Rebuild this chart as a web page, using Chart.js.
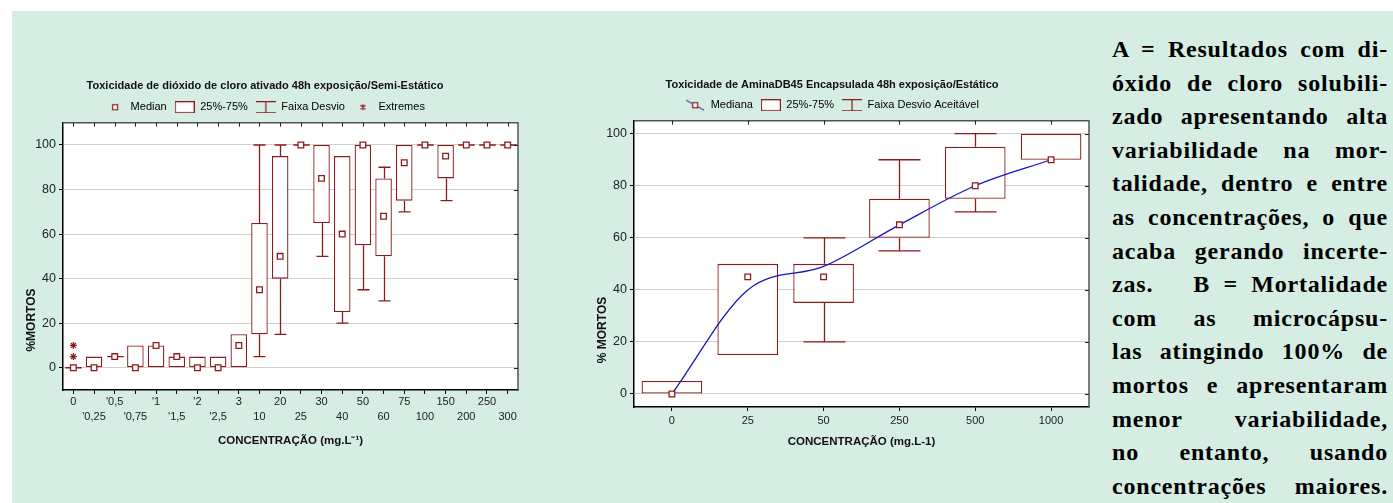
<!DOCTYPE html>
<html lang="pt">
<head>
<meta charset="UTF-8">
<title>Toxicidade - box plots</title>
<script src="https://cdn.jsdelivr.net/npm/chart.js"></script>
<style>
  body { margin: 0; width: 1393px; height: 503px; overflow: hidden; background: #fff; position: relative; }
  #bg { position: absolute; left: 12px; top: 11px; right: 0; bottom: 0; background: #d5ede2; }
  canvas { position: absolute; }
  #chartA { left: 12px; top: 60px; }
  #chartB { left: 575px; top: 60px; }
  #note { position: absolute; left: 1112px; top: 33px; width: 276px;
          font: bold 24px "Liberation Serif", serif; letter-spacing: 0.8px; line-height: 33.6px; color: #000; }
  #note div { white-space: nowrap; text-align: justify; text-align-last: justify; }
</style>
</head>
<body>
<div id="bg"></div>
<canvas id="chartA" width="516" height="400"></canvas>
<canvas id="chartB" width="520" height="400"></canvas>
<div id="note">
  <div>A = Resultados com di-</div>
  <div>óxido de cloro solubili-</div>
  <div>zado apresentando alta</div>
  <div>variabilidade na mor-</div>
  <div>talidade, dentro e entre</div>
  <div>as concentrações, o que</div>
  <div>acaba gerando incerte-</div>
  <div>zas. &nbsp; B = Mortalidade</div>
  <div>com as microcápsu-</div>
  <div>las atingindo 100% de</div>
  <div>mortos e apresentaram</div>
  <div>menor variabilidade,</div>
  <div>no entanto, usando</div>
  <div>concentrações maiores.</div>
</div>
<script>
    // chart A: dióxido de cloro (semi-estático)
    const concA = ['0', "'0,25", "'0,5", "'0,75", "'1", "'1,5", "'2", "'2,5", '3', '10', '20', '25', '30', '40', '50', '60', '75', '100', '150', '200', '250', '300'];
    const medA  = [0, 0, 5, 0, 10, 5, 0, 0, 10, 35, 50, 100, 85, 60, 100, 68, 92, 100, 95, 100, 100, 100];
    const q1A   = [0, 0, 5, 0, 0, 0, 0, 0, 0, 15, 40, 100, 65, 25, 55, 50, 75, 100, 85, 100, 100, 100];
    const q3A   = [0, 5, 5, 10, 10, 5, 5, 5, 15, 65, 95, 100, 100, 95, 100, 85, 100, 100, 100, 100, 100, 100];
    const lowA  = [0, 0, 5, 0, 0, 0, 0, 0, 0, 5, 15, 100, 50, 20, 35, 30, 70, 100, 75, 100, 100, 100];
    const highA = [0, 5, 5, 10, 10, 5, 5, 5, 15, 100, 100, 100, 100, 95, 100, 90, 100, 100, 100, 100, 100, 100];
    const extremeCatA = ['0', '0'];
    const extremeValA = [5, 10];

    // chart B: AminaDB45 encapsulada (estático)
    const concB = ['0', '25', '50', '250', '500', '1000'];
    const medB  = [0, 45, 45, 65, 80, 90];
    const q1B   = [0, 15, 35, 60, 75, 90];
    const q3B   = [5, 50, 50, 75, 95, 100];
    const lowB  = [0, 15, 20, 55, 70, 90];
    const highB = [5, 50, 60, 90, 100, 100];
    const fitB  = [0, 40, 49, 65, 80, 90];

    const yTicks = [0, 20, 40, 60, 80, 100];

    const RED = '#8e1b1b';
    const BLUE = '#1515c0';
    const F = '"Liberation Sans", Arial, sans-serif';

    function icon(draw, w = 20, h = 12) {
        const c = document.createElement('canvas');
        c.width = w; c.height = h;
        const g = c.getContext('2d');
        g.strokeStyle = RED; g.lineWidth = 1.2;
        draw(g, w, h);
        return c;
    }
    const iconMedian = icon(g => { g.fillStyle = '#fff'; g.fillRect(7.5, 3.5, 5, 5); g.strokeRect(7.5, 3.5, 5, 5); });
    const iconBox = icon(g => { g.fillStyle = '#fff'; g.fillRect(0.5, 0.5, 19, 11); g.strokeRect(0.5, 0.5, 19, 11); });
    const iconWhisker = icon(g => {
        g.beginPath();
        g.moveTo(0, 0.5); g.lineTo(20, 0.5);
        g.moveTo(10, 0.5); g.lineTo(10, 11.5);
        g.moveTo(0, 11.5); g.lineTo(20, 11.5);
        g.stroke();
    });
    const iconExtreme = icon(g => {
        g.beginPath();
        g.moveTo(10, 3); g.lineTo(10, 9);
        g.moveTo(7.5, 4); g.lineTo(12.5, 8);
        g.moveTo(12.5, 4); g.lineTo(7.5, 8);
        g.stroke();
    });
    const iconMedLine = icon(g => {
        g.strokeStyle = BLUE; g.lineWidth = 1;
        g.beginPath(); g.moveTo(1, 1); g.lineTo(19, 11); g.stroke();
        g.strokeStyle = RED; g.lineWidth = 1.2; g.fillStyle = '#fff';
        g.fillRect(7.5, 3.5, 5, 5); g.strokeRect(7.5, 3.5, 5, 5);
    });

    const legendItem = (text, img) => ({ text, pointStyle: img, lineWidth: 0, strokeStyle: 'transparent', fillStyle: 'transparent', hidden: false });

    // white plot area
    const plotBg = {
        id: 'plotBg',
        beforeDraw(chart) {
            const { ctx, chartArea: a } = chart;
            ctx.save();
            ctx.fillStyle = '#fff';
            ctx.fillRect(a.left, a.top, a.right - a.left, a.bottom - a.top);
            ctx.restore();
        }
    };

    // whiskers and flat boxes
    const whiskers = {
        id: 'whiskers',
        beforeDatasetsDraw(chart, args, o) {
            const { ctx, scales: { x, y } } = chart;
            const bars = chart.getDatasetMeta(0).data;
            ctx.save();
            ctx.strokeStyle = RED;
            ctx.lineWidth = 1.3;
            ctx.beginPath();
            o.low.forEach((lo, i) => {
                const cx = Math.round(x.getPixelForValue(i)) + 0.5;
                const half = o.cap / 2;
                const hi = o.high[i], b = o.q1[i], t = o.q3[i];
                if (lo < b) {
                    ctx.moveTo(cx, y.getPixelForValue(b)); ctx.lineTo(cx, y.getPixelForValue(lo));
                    ctx.moveTo(cx - half, y.getPixelForValue(lo)); ctx.lineTo(cx + half, y.getPixelForValue(lo));
                }
                if (hi > t) {
                    ctx.moveTo(cx, y.getPixelForValue(t)); ctx.lineTo(cx, y.getPixelForValue(hi));
                    ctx.moveTo(cx - half, y.getPixelForValue(hi)); ctx.lineTo(cx + half, y.getPixelForValue(hi));
                }
                if (b === t) {
                    const bw = bars[i].width / 2;
                    ctx.moveTo(cx - bw, y.getPixelForValue(b)); ctx.lineTo(cx + bw, y.getPixelForValue(b));
                }
            });
            ctx.stroke();
            ctx.restore();
        }
    };

    // top and right border with inward ticks, rotated y title
    const frame = {
        id: 'frame',
        afterDraw(chart, args, o) {
            const { ctx, chartArea: a, scales: { x, y } } = chart;
            ctx.save();
            ctx.strokeStyle = '#555';
            ctx.lineWidth = 1.5;
            ctx.beginPath();
            ctx.moveTo(a.left, a.top); ctx.lineTo(a.right, a.top); ctx.lineTo(a.right, a.bottom);
            ctx.stroke();
            ctx.lineWidth = 1;
            ctx.strokeStyle = '#222';
            ctx.beginPath();
            x.ticks.forEach((t, i) => {
                const px = Math.round(x.getPixelForTick(i)) + 0.5;
                ctx.moveTo(px, a.top); ctx.lineTo(px, a.top + 4);
            });
            y.ticks.forEach((t, i) => {
                const py = Math.round(y.getPixelForTick(i)) + 0.5;
                ctx.moveTo(a.right, py); ctx.lineTo(a.right - 4, py);
            });
            ctx.stroke();

            ctx.translate(o.x, a.bottom - o.fromBottom);
            ctx.rotate(-Math.PI / 2);
            ctx.font = 'bold 12px ' + F;
            ctx.fillStyle = '#111';
            ctx.textAlign = 'center';
            ctx.textBaseline = 'middle';
            ctx.fillText(o.text, 0, 0);
            ctx.restore();
        }
    };

    function yScale(min, max, width) {
        return {
            min: min, max: max,
            ticks: { padding: 3, color: '#222', font: { size: 12.5, family: F } },
            afterBuildTicks: (s) => { s.ticks = yTicks.map(v => ({ value: v })); },
            grid: { color: '#cfcfcf', tickColor: '#000', tickLength: 4 },
            border: { color: '#000', width: 1.5 },
            afterFit: (s) => { s.width = width; }
        };
    }

    const chartA = new Chart(document.getElementById('chartA'), {
        type: 'bar',
        data: {
            labels: concA,
            datasets: [
                {
                    type: 'bar', label: '25%-75%',
                    data: concA.map((c, i) => [q1A[i], q3A[i]]),
                    backgroundColor: '#fff', borderColor: RED, borderWidth: 1.3, borderSkipped: false,
                    categoryPercentage: 0.8, barPercentage: 1, order: 3
                },
                {
                    type: 'line', label: 'Median', data: medA, showLine: false,
                    pointStyle: 'rect', pointRadius: 4, pointBackgroundColor: '#fff',
                    pointBorderColor: RED, pointBorderWidth: 1.3, order: 1
                },
                {
                    type: 'line', label: 'Extremes',
                    data: extremeCatA.map((c, i) => ({ x: c, y: extremeValA[i] })),
                    showLine: false, pointStyle: 'star', pointRadius: 3.5,
                    pointBorderColor: RED, pointBorderWidth: 1.2, order: 0
                }
            ]
        },
        options: {
            responsive: false,
            animation: false,
            layout: { padding: { left: 0, right: 10, top: 0, bottom: 0 } },
            scales: {
                x: {
                    offset: true,
                    grid: { offset: false, drawOnChartArea: false, color: '#000', tickLength: 4 },
                    border: { color: '#000', width: 1.5 },
                    ticks: {
                        autoSkip: false, maxRotation: 0, minRotation: 0, padding: 1, color: '#222',
                        font: { size: 11, family: F, lineHeight: 1.35 },
                        callback: (v, i) => i % 2 === 0 ? [concA[i], ''] : ['', concA[i]]
                    },
                    title: {
                        display: true, text: 'CONCENTRAÇÃO (mg.L⁻¹)', color: '#111',
                        font: { size: 11.5, weight: 'bold', family: F }, padding: { top: 0, bottom: 12.7 }
                    },
                    afterFit: (s) => { s.height = 70; }
                },
                y: yScale(-10, 110, 51)
            },
            plugins: {
                title: {
                    display: true, text: 'Toxicidade de dióxido de cloro ativado 48h exposição/Semi-Estático',
                    color: '#111', font: { size: 11, weight: 'bold', family: F },
                    padding: { top: 19, bottom: 1.5 }
                },
                legend: {
                    labels: {
                        usePointStyle: true, pointStyleWidth: 20, boxHeight: 11, padding: 8,
                        color: '#222', font: { size: 11, family: F },
                        generateLabels: () => [
                            legendItem('Median', iconMedian),
                            legendItem('25%-75%', iconBox),
                            legendItem('Faixa Desvio', iconWhisker),
                            legendItem('Extremes', iconExtreme)
                        ]
                    }
                },
                tooltip: { enabled: false },
                whiskers: { low: lowA, high: highA, q1: q1A, q3: q3A, cap: 12 },
                frame: { text: '%MORTOS', x: 20, fromBottom: 70 }
            }
        },
        plugins: [plotBg, whiskers, frame]
    });

    const chartB = new Chart(document.getElementById('chartB'), {
        type: 'bar',
        data: {
            labels: concB,
            datasets: [
                {
                    type: 'bar', label: '25%-75%',
                    data: concB.map((c, i) => [q1B[i], q3B[i]]),
                    backgroundColor: '#fff', borderColor: RED, borderWidth: 1.3, borderSkipped: false,
                    categoryPercentage: 0.8, barPercentage: 1, order: 3
                },
                {
                    type: 'line', label: 'Ajuste', data: fitB, borderColor: BLUE, borderWidth: 1.3,
                    pointRadius: 0, cubicInterpolationMode: 'monotone', fill: false, order: 2
                },
                {
                    type: 'line', label: 'Mediana', data: medB, showLine: false,
                    pointStyle: 'rect', pointRadius: 4, pointBackgroundColor: '#fff',
                    pointBorderColor: RED, pointBorderWidth: 1.3, order: 1
                }
            ]
        },
        options: {
            responsive: false,
            animation: false,
            layout: { padding: { left: 0, right: 6, top: 0, bottom: 0 } },
            scales: {
                x: {
                    offset: true,
                    grid: { offset: false, drawOnChartArea: false, color: '#000', tickLength: 4 },
                    border: { color: '#000', width: 1.5 },
                    ticks: { autoSkip: false, maxRotation: 0, padding: 3, color: '#222', font: { size: 11, family: F } },
                    title: {
                        display: true, text: 'CONCENTRAÇÃO (mg.L-1)', color: '#111',
                        font: { size: 11.5, weight: 'bold', family: F }, padding: { top: 0, bottom: 11.7 }
                    },
                    afterFit: (s) => { s.height = 53; }
                },
                y: yScale(-5, 105, 59)
            },
            plugins: {
                title: {
                    display: true, text: 'Toxicidade de AminaDB45 Encapsulada 48h exposição/Estático',
                    color: '#111', font: { size: 11, weight: 'bold', family: F },
                    padding: { top: 18.5, bottom: 0 }
                },
                legend: {
                    labels: {
                        usePointStyle: true, pointStyleWidth: 20, boxHeight: 11, padding: 8,
                        color: '#222', font: { size: 11, family: F },
                        generateLabels: () => [
                            legendItem('Mediana', iconMedLine),
                            legendItem('25%-75%', iconBox),
                            legendItem('Faixa Desvio Aceitável', iconWhisker)
                        ]
                    }
                },
                tooltip: { enabled: false },
                whiskers: { low: lowB, high: highB, q1: q1B, q3: q3B, cap: 42 },
                frame: { text: '% MORTOS', x: 28, fromBottom: 77 }
            }
        },
        plugins: [plotBg, whiskers, frame]
    });
</script>
</body>
</html>
